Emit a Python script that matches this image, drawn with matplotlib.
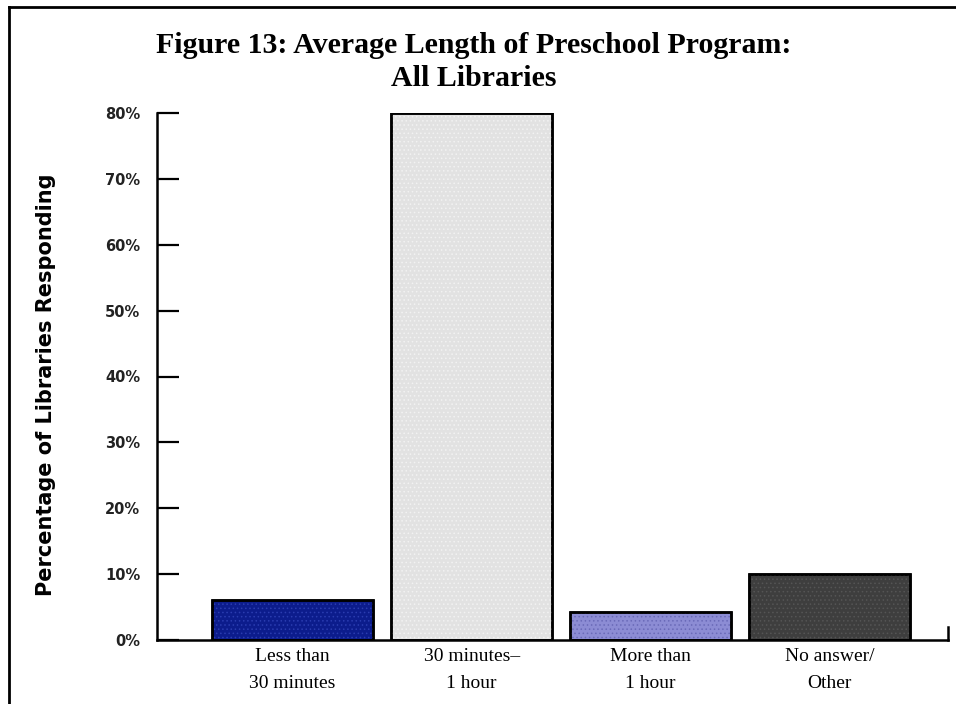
import matplotlib.pyplot as plt
from matplotlib.lines import Line2D

categories = ["Less than\n30 minutes", "30 minutes\u2013\n1 hour", "More than\n1 hour", "No answer/\nOther"]
values = [6.1, 80.0, 4.2, 10.0]
colors = ["#0c1c8c", "#e2e2e2", "#8c8cd4", "#3e3e3e"]
dot_colors = ["#2a3cb0", "#f2f2f2", "#6a6ab8", "#555555"]
yticks = [0, 10, 20, 30, 40, 50, 60, 70, 80]
ytick_labels = ["0%", "10%", "20%", "30%", "40%", "50%", "60%", "70%", "80%"]

fig = plt.figure(figsize=(9.56, 7.04), dpi=100)
ax = fig.add_axes([157 / 956, 1 - 640 / 704, (948 - 157) / 956, (640 - 113) / 704])

x = list(range(len(categories)))
ax.bar(x, values, width=0.9, color=colors, edgecolor="black", linewidth=1.8, zorder=2)
# dotted fill texture
plt.rcParams["hatch.linewidth"] = 0.6
for xi, v, dc in zip(x, values, dot_colors):
    ax.bar(xi, v, width=0.9, color="none", edgecolor=dc, hatch="....", linewidth=0, zorder=3)
ax.bar(x, values, width=0.9, color="none", edgecolor="black", linewidth=1.8, zorder=4)

ax.set_xlim(-0.757, 3.66)
ax.set_ylim(0, 80)

for s in ["top", "right"]:
    ax.spines[s].set_visible(False)
ax.spines["left"].set_linewidth(1.8)
ax.spines["bottom"].set_linewidth(1.8)

ax.set_yticks(yticks)
ax.set_yticklabels(ytick_labels, fontsize=10.5, fontweight="bold", family="DejaVu Sans", color="#222222")
ax.tick_params(axis="y", direction="in", length=16, width=1.6, pad=12)
ax.set_xticks(x)
ax.set_xticklabels(categories, fontsize=14, family="Liberation Serif", linespacing=1.75)
ax.tick_params(axis="x", length=0, pad=6)

# small tick at the right end of the x axis
ax.plot([3.66, 3.66], [0, 2], color="black", lw=1.8, clip_on=False)

ax.set_ylabel("Percentage of Libraries Responding", fontsize=15, fontweight="bold",
              family="DejaVu Sans")
ax.yaxis.set_label_coords(-(157 - 56) / (948 - 157), 0.485)

fig.text(474 / 956, 1 - 62 / 704, "Figure 13: Average Length of Preschool Program:\nAll Libraries",
         ha="center", va="center", fontsize=21.5, fontweight="bold", family="Liberation Serif",
         linespacing=1.3)

# page frame lines
fig.add_artist(Line2D([9 / 956, 1], [1 - 7 / 704, 1 - 7 / 704], color="black", lw=2))
fig.add_artist(Line2D([9 / 956, 9 / 956], [0, 1 - 7 / 704], color="black", lw=2))

fig.savefig("out.png", dpi=100)
